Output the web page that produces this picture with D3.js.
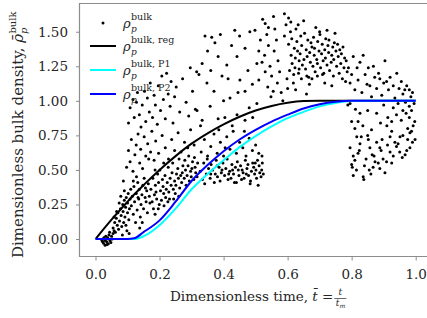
<!DOCTYPE html>
<html>
<head>
<meta charset="utf-8">
<script src="https://cdn.jsdelivr.net/npm/d3@7"></script>
<style>
body { margin: 0; background: #fff; }
text { font-family: "DejaVu Serif", serif; }
</style>
</head>
<body>
<svg width="427" height="318"></svg>
<script>
// tick labels
var xTicks = [0, 0.2, 0.4, 0.6, 0.8, 1.0];
var yTicks = [0, 0.25, 0.5, 0.75, 1.0, 1.25, 1.5];

// fitted curves
var curveT     = [0, 0.05, 0.1, 0.12, 0.15, 0.2, 0.25, 0.3, 0.35, 0.4, 0.45, 0.5, 0.55, 0.6, 0.65, 0.7, 0.75, 0.8, 0.85, 0.9, 1.0];
var regValues  = [0, 0.14, 0.27, 0.32, 0.39, 0.5, 0.6, 0.69, 0.765, 0.83, 0.885, 0.93, 0.963, 0.986, 0.998, 1, 1, 1, 1, 1, 1];
var p1Values   = [0, 0, 0, 0, 0.02, 0.1, 0.22, 0.36, 0.47, 0.57, 0.665, 0.745, 0.815, 0.875, 0.92, 0.96, 0.985, 0.998, 1, 1, 1];
var p2Values   = [0, 0, 0, 0.005, 0.05, 0.135, 0.27, 0.42, 0.535, 0.635, 0.72, 0.79, 0.85, 0.9, 0.945, 0.975, 0.993, 1, 1, 1, 1];

var legendSup = ["bulk", "bulk, reg", "bulk, P1", "bulk, P2"];

// measured bulk density points [t, rho]
var bulkPoints = [
  [0.02,-0.01],[0.025,-0.03],[0.03,-0.045],[0.028,0.0],[0.035,-0.02],[0.04,-0.035],[0.032,0.02],[0.038,0.01],[0.045,-0.01],[0.022,-0.02],
  [0.042,0.03],[0.05,0.02],[0.048,-0.025],[0.03,-0.01],[0.055,0.04],[0.036,-0.04],[0.026,0.01],[0.044,0.05],[0.052,0.0],[0.058,0.06],
  [0.055,0.08],[0.06,0.12],[0.062,0.05],[0.065,0.15],[0.068,0.1],[0.07,0.19],[0.072,0.07],[0.075,0.13],[0.078,0.22],[0.08,0.17],
  [0.082,0.09],[0.085,0.25],[0.086,0.2],[0.088,0.12],[0.09,0.28],[0.092,0.16],[0.094,0.23],[0.096,0.3],[0.098,0.06],[0.1,0.26],
  [0.1,0.19],[0.102,0.33],[0.104,0.14],[0.106,0.22],[0.108,0.29],[0.11,0.36],[0.066,0.2],[0.074,0.26],[0.084,0.03],[0.09,0.35],
  [0.058,0.16],[0.079,0.31],[0.095,0.1],[0.105,0.04],[0.087,0.42],
  [0.112,0.24],[0.115,0.31],[0.118,0.18],[0.12,0.38],[0.122,0.27],[0.125,0.12],[0.127,0.33],[0.13,0.21],[0.132,0.41],[0.135,0.29],
  [0.137,0.36],[0.14,0.16],[0.142,0.25],[0.145,0.32],[0.148,0.39],[0.15,0.22],[0.152,0.44],[0.155,0.3],[0.158,0.27],[0.16,0.35],
  [0.162,0.19],[0.165,0.4],[0.168,0.31],[0.17,0.26],[0.128,0.45],[0.138,0.08],[0.118,0.42],[0.146,0.12],[0.156,0.37],[0.133,0.3],
  [0.173,0.36],[0.177,0.27],[0.179,0.44],[0.184,0.32],[0.181,0.22],[0.187,0.39],[0.191,0.29],[0.194,0.47],[0.189,0.34],[0.199,0.25],
  [0.197,0.41],[0.203,0.35],[0.206,0.28],[0.201,0.5],[0.209,0.43],[0.213,0.33],[0.211,0.38],[0.217,0.46],[0.219,0.3],[0.224,0.41],
  [0.221,0.36],[0.227,0.52],[0.229,0.34],[0.233,0.44],[0.236,0.39],[0.231,0.29],[0.239,0.48],[0.243,0.36],[0.241,0.55],[0.247,0.42],
  [0.249,0.33],[0.253,0.47],[0.251,0.39],[0.257,0.51],[0.259,0.44],[0.263,0.37],[0.261,0.58],[0.266,0.46],[0.269,0.41],[0.273,0.53],
  [0.271,0.48],[0.277,0.44],[0.279,0.57],[0.283,0.39],[0.281,0.5],[0.286,0.46],[0.289,0.53],[0.293,0.42],[0.291,0.6],[0.297,0.49],
  [0.299,0.45],[0.303,0.56],[0.301,0.51],[0.307,0.43],[0.309,0.59],[0.313,0.48],[0.311,0.52],[0.317,0.45],[0.319,0.55],[0.196,0.22],
  [0.226,0.27],[0.26,0.31],[0.186,0.18],[0.244,0.29],[0.214,0.24],
  [0.097,0.52],[0.103,0.64],[0.108,0.56],[0.112,0.72],[0.117,0.49],[0.123,0.61],[0.127,0.68],[0.133,0.76],[0.138,0.55],[0.141,0.65],
  [0.147,0.51],[0.152,0.74],[0.157,0.6],[0.163,0.69],[0.166,0.58],[0.172,0.63],[0.176,0.78],[0.183,0.57],[0.188,0.71],[0.197,0.62],
  [0.208,0.75],[0.218,0.66],[0.228,0.58],[0.238,0.72],[0.247,0.64],[0.258,0.77],[0.267,0.63],[0.278,0.7],[0.288,0.66],[0.297,0.79],
  [0.308,0.68],[0.186,0.5],[0.213,0.55],
  [0.103,0.84],[0.108,0.95],[0.117,1.01],[0.121,0.88],[0.128,0.99],[0.131,1.06],[0.137,0.9],[0.142,0.81],[0.146,0.97],[0.153,1.07],
  [0.157,0.85],[0.162,1.02],[0.168,0.92],[0.171,1.13],[0.178,0.88],[0.183,1.04],[0.187,0.97],[0.193,0.83],[0.196,1.11],[0.203,0.93],
  [0.207,1.18],[0.212,1.01],[0.218,0.87],[0.222,1.2],[0.227,1.05],[0.233,0.96],[0.236,1.14],[0.242,0.84],[0.247,1.03],[0.252,1.1],
  [0.263,0.92],[0.272,1.16],[0.283,0.99],[0.291,0.89],[0.296,1.24],[0.303,1.07],[0.312,0.94],[0.316,1.21],
  [0.342,1.47],[0.363,1.46],[0.373,1.42],[0.35,1.36],[0.333,1.27],[0.323,1.19],[0.435,1.51],[0.45,1.47],[0.467,1.38],[0.482,1.5],
  [0.498,1.51],[0.383,1.32],[0.41,1.26],[0.442,1.32],[0.395,1.18],[0.414,1.16],[0.348,1.13],[0.504,1.27],[0.476,1.22],[0.451,1.15],
  [0.467,1.07],[0.445,1.06],[0.42,1.02],[0.4,1.0],[0.358,0.96],[0.317,0.93],[0.333,0.86],[0.383,0.87],[0.404,0.88],[0.467,0.86],
  [0.491,0.88],[0.442,0.9],[0.504,0.98],[0.328,0.82],[0.427,0.82],[0.37,1.07],[0.49,1.12],[0.36,1.22],[0.425,1.4],[0.51,1.36],
  [0.39,1.48],[0.48,0.95],
  [0.522,1.59],[0.53,1.56],[0.535,1.48],[0.54,1.4],[0.528,1.33],[0.545,1.25],[0.55,1.18],[0.538,1.1],[0.548,1.03],[0.556,1.61],
  [0.56,1.52],[0.565,1.44],[0.558,1.36],[0.57,1.29],[0.575,1.21],[0.568,1.13],[0.58,1.06],[0.585,1.0],[0.59,1.63],[0.595,1.55],
  [0.59,1.47],[0.598,1.16],[0.6,1.09],[0.53,1.21],[0.555,1.07],[0.515,1.44],[0.52,1.28],[0.51,1.15],[0.54,1.53],
  [0.603,1.41],[0.606,1.22],[0.609,1.5],[0.611,1.33],[0.614,1.27],[0.613,1.45],[0.619,1.19],[0.621,1.38],[0.624,1.31],[0.626,1.52],
  [0.623,1.24],[0.631,1.36],[0.629,1.43],[0.636,1.29],[0.634,1.2],[0.641,1.47],[0.639,1.34],[0.646,1.26],[0.644,1.4],[0.651,1.3],
  [0.653,1.49],[0.656,1.23],[0.658,1.37],[0.661,1.32],[0.663,1.44],[0.666,1.17],[0.669,1.35],[0.671,1.28],[0.673,1.42],[0.676,1.39],
  [0.679,1.25],[0.681,1.46],[0.683,1.33],[0.686,1.21],[0.684,1.38],[0.691,1.3],[0.694,1.43],[0.693,1.27],[0.698,1.36],[0.701,1.48],
  [0.703,1.24],[0.706,1.34],[0.708,1.41],[0.711,1.29],[0.709,1.19],[0.716,1.37],[0.719,1.45],[0.718,1.31],[0.723,1.26],[0.726,1.4],
  [0.728,1.35],[0.731,1.22],[0.729,1.44],[0.736,1.28],[0.738,1.33],[0.741,1.39],[0.743,1.18],[0.746,1.42],[0.744,1.3],[0.751,1.36],
  [0.753,1.25],[0.756,1.41],[0.758,1.32],[0.761,1.2],[0.763,1.37],[0.766,1.27],[0.768,1.34],[0.771,1.16],[0.773,1.39],[0.776,1.24],
  [0.778,1.31],[0.781,1.14],[0.783,1.29],[0.786,1.21],
  [0.61,1.57],[0.633,1.55],[0.618,1.13],[0.643,1.16],[0.668,1.12],[0.693,1.18],[0.716,1.13],[0.738,1.11],[0.65,1.58],[0.603,1.6],
  [0.625,1.08],[0.659,1.05],[0.7,1.5],[0.723,1.51],[0.748,1.49],[0.688,1.53],[0.713,1.2],[0.66,1.18],[0.636,1.23],[0.676,1.16],
  [0.79,1.24],[0.795,1.13],[0.8,1.19],[0.805,1.32],[0.81,1.08],[0.817,1.24],[0.82,1.15],[0.826,1.28],[0.832,1.06],[0.836,1.33],
  [0.842,1.19],[0.848,1.12],[0.852,1.24],[0.857,1.11],[0.862,1.03],[0.868,1.25],[0.872,1.17],[0.878,1.09],[0.884,1.2],[0.888,1.16],
  [0.894,1.04],[0.9,1.13],[0.904,1.29],[0.909,1.14],[0.915,1.08],[0.92,1.17],[0.93,1.11],[0.935,1.02],[0.941,1.2],[0.948,1.09],
  [0.955,1.14],[0.96,1.05],[0.966,1.08],[0.972,1.11],[0.98,1.08],[0.985,1.03],[0.99,1.06],
  [0.788,0.97],[0.795,0.98],[0.8,0.85],[0.81,0.8],[0.812,0.94],[0.82,0.85],[0.826,0.91],[0.835,0.82],[0.85,0.93],[0.862,0.79],
  [0.878,0.91],[0.89,0.84],[0.9,0.97],[0.913,0.88],[0.925,0.85],[0.91,0.82],[0.93,0.95],[0.945,0.98],[0.955,0.86],[0.96,0.93],
  [0.97,0.91],[0.975,0.8],[0.98,0.96],[0.987,0.93],[0.98,0.88],[0.997,0.85],[0.992,0.82],[0.995,0.98],[0.968,0.99],[0.94,0.9],
  [0.795,0.66],[0.8,0.54],[0.802,0.52],[0.805,0.46],[0.81,0.57],[0.82,0.62],[0.836,0.45],[0.838,0.43],[0.816,0.74],[0.83,0.74],
  [0.85,0.75],[0.852,0.72],[0.857,0.66],[0.864,0.61],[0.878,0.7],[0.888,0.66],[0.892,0.64],[0.873,0.56],[0.867,0.52],[0.883,0.55],
  [0.888,0.51],[0.898,0.58],[0.904,0.48],[0.909,0.56],[0.925,0.55],[0.92,0.63],[0.935,0.7],[0.94,0.67],[0.945,0.69],[0.951,0.74],
  [0.96,0.75],[0.982,0.77],[0.987,0.78],[0.998,0.72],[0.982,0.66],[0.967,0.61],[0.958,0.59],[0.972,0.64],[0.925,0.78],[0.92,0.74],
  [0.826,0.69],[0.824,0.64],[0.845,0.58],[0.855,0.5],[0.86,0.47],[0.87,0.6],[0.895,0.72],[0.912,0.68],[0.93,0.6],[0.95,0.63],
  [0.99,0.7],[0.975,0.72],[0.805,0.6],[0.815,0.5],[0.84,0.53],
  [0.327,0.49],[0.334,0.43],[0.338,0.55],[0.346,0.47],[0.341,0.4],[0.353,0.51],[0.349,0.58],[0.358,0.44],[0.366,0.5],[0.361,0.54],
  [0.371,0.41],[0.377,0.57],[0.374,0.47],[0.386,0.52],[0.381,0.45],[0.393,0.48],[0.389,0.42],[0.398,0.55],[0.403,0.46],[0.407,0.51],
  [0.414,0.43],[0.411,0.58],[0.419,0.49],[0.426,0.54],[0.423,0.44],[0.431,0.47],[0.437,0.52],[0.434,0.41],[0.443,0.56],[0.448,0.46],
  [0.446,0.5],[0.456,0.43],[0.453,0.53],[0.461,0.48],[0.468,0.57],[0.464,0.44],[0.473,0.51],[0.478,0.46],[0.476,0.54],[0.487,0.49],
  [0.484,0.42],[0.491,0.55],[0.497,0.47],[0.494,0.52],[0.503,0.44],[0.506,0.57],[0.501,0.5],[0.513,0.48],[0.511,0.53],[0.517,0.45],
  [0.521,0.55],[0.519,0.5],[0.524,0.47],[0.483,0.4],[0.508,0.39],[0.44,0.41],[0.36,0.47],[0.395,0.5],[0.428,0.5],[0.471,0.47],
  [0.38,0.53],[0.416,0.47],[0.458,0.5],[0.499,0.55],
  [0.33,0.63],[0.34,0.72],[0.35,0.6],[0.36,0.67],[0.37,0.76],[0.38,0.62],[0.39,0.7],[0.4,0.6],[0.41,0.74],[0.42,0.65],
  [0.43,0.78],[0.44,0.62],[0.45,0.7],[0.46,0.66],[0.47,0.6],[0.48,0.73],[0.49,0.64],[0.5,0.68],[0.51,0.62],[0.52,0.6],
  [0.465,0.78],[0.385,0.79],[0.405,0.66]
];

var svg = d3.select("svg"),
    x = d3.scaleLinear().domain([-0.05, 1.05]).range([79.5, 431.7]),
    y = d3.scaleLinear().domain([-0.13, 1.708]).range([257, 3]);

var spine = "#8c8c8c", ink = "#262626";

// axes
var xAxis = svg.append("g")
    .attr("transform", "translate(0,257)")
    .call(d3.axisBottom(x).tickValues(xTicks).tickFormat(d3.format(".1f")).tickSize(3.5).tickPadding(9));
var yAxis = svg.append("g")
    .attr("transform", "translate(79.5,0)")
    .call(d3.axisLeft(y).tickValues(yTicks).tickFormat(d3.format(".2f")).tickSize(3.5).tickPadding(8));

[xAxis, yAxis].forEach(function(a) {
    a.select(".domain").remove();
    a.attr("font-family", "DejaVu Serif").attr("font-size", 13.5);
    a.selectAll(".tick line").attr("stroke", spine);
    a.selectAll(".tick text").attr("fill", ink);
});

// spines (left, top, bottom)
svg.append("path")
    .attr("d", "M432,3.5H79.5V256.5H432")
    .attr("fill", "none")
    .attr("stroke", spine)
    .attr("stroke-width", 1.2);

// scatter
svg.append("g").selectAll("circle")
    .data(bulkPoints)
    .enter().append("circle")
    .attr("cx", function(d) { return x(d[0]); })
    .attr("cy", function(d) { return y(d[1]); })
    .attr("r", 1.5)
    .attr("fill", "#000");

// curves
var line = d3.line()
    .x(function(d, i) { return x(curveT[i]); })
    .y(function(d) { return y(d); })
    .curve(d3.curveMonotoneX);

[[regValues, "#000"], [p1Values, "#00ffff"], [p2Values, "#0000ff"]].forEach(function(s) {
    svg.append("path")
        .attr("d", line(s[0]))
        .attr("fill", "none")
        .attr("stroke", s[1])
        .attr("stroke-width", 2);
});

// legend
var legendY = [23, 46, 70, 94];
var leg = svg.append("g");
leg.append("circle").attr("cx", 103).attr("cy", legendY[0]).attr("r", 1.5).attr("fill", "#000");
["#000", "#00ffff", "#0000ff"].forEach(function(c, i) {
    leg.append("line")
        .attr("x1", 90).attr("x2", 116)
        .attr("y1", legendY[i + 1]).attr("y2", legendY[i + 1])
        .attr("stroke", c).attr("stroke-width", 2);
});
legendSup.forEach(function(s, i) {
    var yy = legendY[i];
    leg.append("text").attr("x", 123).attr("y", yy + 5)
        .attr("font-style", "italic").attr("font-size", 13).attr("fill", ink).text("ρ");
    leg.append("text").attr("x", 131).attr("y", yy + 9)
        .attr("font-style", "italic").attr("font-size", 9).attr("fill", ink).text("p");
    leg.append("text").attr("x", 131).attr("y", yy - 3)
        .attr("font-size", 9.5).attr("fill", ink).text(s);
});

// y label
var yl = svg.append("text")
    .attr("transform", "translate(23,258) rotate(-90)")
    .attr("font-size", 15).attr("fill", ink);
yl.append("tspan").text("Dimensionless bulk density, ");
yl.append("tspan").attr("font-style", "italic").text("ρ\u0304");
yl.append("tspan").attr("font-style", "italic").attr("font-size", 10).attr("dy", 4).text("p");
yl.append("tspan").attr("font-size", 10).attr("dx", -6).attr("dy", -11).text("bulk");

// x label
var xl = svg.append("text")
    .attr("x", 170).attr("y", 301)
    .attr("font-size", 13.5).attr("fill", ink);
xl.append("tspan").text("Dimensionless time, ");
xl.append("tspan").attr("font-style", "italic").text("t\u0304");
xl.append("tspan").text(" = ");
var xEnd = 170 + xl.node().getComputedTextLength() + 1;
svg.append("text").attr("x", xEnd + 6).attr("y", 295).attr("text-anchor", "middle")
    .attr("font-style", "italic").attr("font-size", 9).attr("fill", ink).text("t");
svg.append("line").attr("x1", xEnd).attr("x2", xEnd + 12).attr("y1", 298.5).attr("y2", 298.5)
    .attr("stroke", ink).attr("stroke-width", 0.7);
var den = svg.append("text").attr("x", xEnd + 1.5).attr("y", 306)
    .attr("font-style", "italic").attr("font-size", 9).attr("fill", ink);
den.append("tspan").text("t");
den.append("tspan").attr("font-size", 6).attr("dy", 1.5).text("m");
</script>
</body>
</html>
